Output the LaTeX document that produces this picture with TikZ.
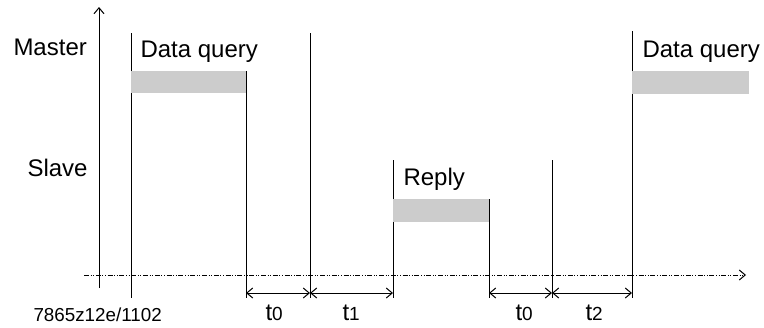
\documentclass[tikz,border=0pt]{standalone}
\usepackage{fontspec}
\setmainfont{Liberation Sans}
\usetikzlibrary{arrows.meta}
\tikzset{
  lbl/.style={anchor=base west, inner sep=0pt, font=\fontsize{12}{14}\selectfont},
  tlbl/.style={anchor=base west, inner sep=0pt, font=\fontsize{12}{14}\selectfont},
  frame/.style={fill=black!20, draw=none},
  dimarrow/.style={{Straight Barb[length=3pt,width=5pt]}-{Straight Barb[length=3pt,width=5pt]}, line width=0.5pt},
  timeaxis/.style={-{Straight Barb[length=3pt,width=5pt]}, line width=0.5pt,
    dash pattern=on 2.5pt off 0.8pt on 0.5pt off 0.8pt on 0.5pt off 0.8pt}
}
\newcommand{\tsmall}[1]{{\fontsize{9.5}{11}\selectfont #1}}
\begin{document}
\begin{tikzpicture}[x=0.5pt, y=-0.5pt, line width=0.5pt]
\useasboundingbox (0,0) rectangle (764,327);

% axes
\coordinate (ybot) at (99,288);
\coordinate (ytop) at (99,7);
\draw[-{Straight Barb[length=3pt,width=5pt]}] (ybot) -- (ytop);
\coordinate (tstart) at (84,275);
\coordinate (tend) at (746,275);
\draw[timeaxis] (tstart) -- (tend);

% time marks
\coordinate (a1) at (131,33);  \coordinate (a2) at (131,298);
\coordinate (b1) at (246,71);  \coordinate (b2) at (246,298);
\coordinate (c1) at (310,33);  \coordinate (c2) at (310,298);
\coordinate (d1) at (393,160); \coordinate (d2) at (393,298);
\coordinate (e1) at (489,199); \coordinate (e2) at (489,298);
\coordinate (f1) at (552,160); \coordinate (f2) at (552,298);
\coordinate (g1) at (632,31);  \coordinate (g2) at (632,298);
\foreach \m in {a,b,c,d,e,f,g}
  \draw (\m1) -- (\m2);

% frames
\fill[frame] (131,71) rectangle (246,93);
\fill[frame] (393,199) rectangle (489,222);
\fill[frame] (632,71) rectangle (749,94);

% texts
\node[lbl] (master) at (13,55) {Master};
\node[lbl] (slave) at (27,176) {Slave};
\node[lbl] (query1) at (140,57) {Data query};
\node[lbl] (reply) at (403,185) {Reply};
\node[lbl] (query2) at (642,57) {Data query};
\node[anchor=base west, inner sep=0pt, font=\fontsize{9.4}{11}\selectfont] (figno) at (33,321) {7865z12e/1102};

% intervals
\coordinate (pb) at (246,293); \coordinate (pc) at (310,293);
\coordinate (pd) at (393,293); \coordinate (pe) at (489,293);
\coordinate (pf) at (552,293); \coordinate (pg) at (632,293);
\draw[dimarrow] (pb) -- (pc);
\draw[dimarrow] (pc) -- (pd);
\draw[dimarrow] (pe) -- (pf);
\draw[dimarrow] (pf) -- (pg);
\node[tlbl] (t0a) at (265,320) {t\tsmall{0}};
\node[tlbl] (t1) at (342,320) {t\tsmall{1}};
\node[tlbl] (t0b) at (515,320) {t\tsmall{0}};
\node[tlbl] (t2) at (585,320) {t\tsmall{2}};
\end{tikzpicture}
\end{document}
